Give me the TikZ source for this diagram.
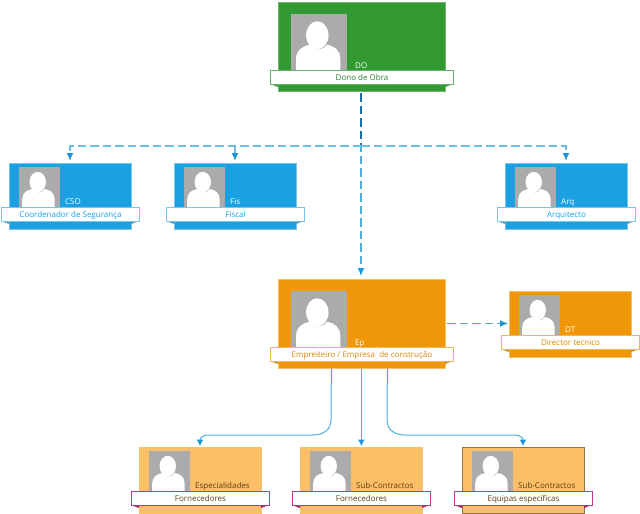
\documentclass[tikz,border=0pt]{standalone}
\usepackage{fontspec}
\setmainfont{Open Sans}
\usetikzlibrary{arrows.meta}
\definecolor{cgreen}{HTML}{339933}
\definecolor{cblue}{HTML}{1BA1E2}
\definecolor{corange}{HTML}{F09609}
\definecolor{clight}{HTML}{FBBF67}
\definecolor{cphoto}{HTML}{ABABAB}
\definecolor{cbrown}{HTML}{5E3F12}
\definecolor{cpink}{HTML}{C0348A}
\definecolor{cline}{HTML}{4FAEDB}
\definecolor{cbus}{HTML}{6DBCE2}
\definecolor{ctip}{HTML}{1B97D8}
\definecolor{cnavy}{HTML}{1B6FA8}
\tikzset{
  x=1pt,y=-1pt,
  cardbase/.style={rectangle,anchor=north west,inner sep=0,line width=.7pt},
  bigcard/.style={cardbase,minimum width=167pt,minimum height=89pt},
  smallcard/.style={cardbase,minimum width=122pt,minimum height=65.5pt},
  ribbon/.style={rectangle,anchor=north west,inner sep=0,fill=white,line width=1pt,text height=6pt,text depth=1pt,font=\fontsize{8}{9}\selectfont},
  codelabel/.style={anchor=base west,inner sep=0,font=\fontsize{8}{9}\selectfont},
  photo/.style={rectangle,anchor=north west,inner sep=0,fill=cphoto,draw=none},
  greentheme/.style={fill=cgreen,draw=cgreen!70!white},
  bluetheme/.style={fill=cblue,draw=cblue!60!white},
  orangetheme/.style={fill=corange,draw=corange!60!white},
  lighttheme/.style={fill=clight,draw=clight},
  browntheme/.style={fill=clight,draw=clight!60!black},
  dashlink/.style={cline,line width=1.3pt,dash pattern=on 8.5pt off 4pt,-{Latex[length=8pt,width=7pt,color=ctip]}},
  solidlink/.style={cline,line width=1pt,-{Latex[length=6.5pt,width=7pt,color=ctip]}},
}
\newcommand\setbig{\def\cstyle{bigcard}\def\pdx{13}\def\pdy{12}\def\psz{56}\def\rw{183}\def\rh{14}\def\rdy{68}\def\ldx{77}\def\ldy{66}\def\cw{167}}
\newcommand\setsmall{\def\cstyle{smallcard}\def\pdx{9.5}\def\pdy{3.5}\def\psz{41}\def\rw{138}\def\rh{14}\def\rdy{44}\def\ldx{56}\def\ldy{41.5}\def\cw{122}}
\newcommand\mycard[9]{%
  \node[\cstyle,#4] (#1) at (#2,#3) {};
  \node[photo,minimum width=\psz pt,minimum height=\psz pt] (#1p) at (#2+\pdx,#3+\pdy) {};
  \begin{scope}[shift={(#2+\pdx,#3+\pdy)},x=\psz pt,y=-\psz pt]
    \fill[white] (.09,1) -- (.09,.8) .. controls (.09,.65) and (.2,.57) .. (.34,.55)
      .. controls (.42,.66) and (.56,.66) .. (.64,.55)
      .. controls (.78,.57) and (.88,.65) .. (.88,.8) -- (.88,1) -- cycle;
    \fill[white] (.47,.38) ellipse [x radius=.2,y radius=.25];
  \end{scope}
  \fill[#5!75!black] (#2-8,#3+\rdy+\rh) -- (#2,#3+\rdy+\rh) -- (#2,#3+\rdy+\rh+3) -- cycle;
  \fill[#5!75!black] (#2+\cw+8,#3+\rdy+\rh) -- (#2+\cw,#3+\rdy+\rh) -- (#2+\cw,#3+\rdy+\rh+3) -- cycle;
  \node[ribbon,draw=#5,text=#6,minimum width=\rw pt,minimum height=\rh pt] (#1r) at (#2-8,#3+\rdy) {#9};
  \node[codelabel,text=#7] (#1c) at (#2+\ldx,#3+\ldy) {#8};
}
\begin{document}
\begin{tikzpicture}
\useasboundingbox (0,0) rectangle (640,514);
\setbig
\mycard{do}{278}{2}{greentheme}{cgreen!75!white}{cgreen!85!black}{white}{DO}{Dono de Obra}
\mycard{ep}{278}{279}{orangetheme}{corange!70!white}{corange!90!black}{white}{Ep}{Empreiteiro / Empresa\ \ de construção}
\setsmall
\mycard{cso}{9}{163}{bluetheme}{cblue!60!white}{cblue}{white}{CSO}{Coordenador de Segurança}
\mycard{fis}{174}{163}{bluetheme}{cblue!60!white}{cblue}{white}{Fis}{Fiscal}
\mycard{arq}{505}{163}{bluetheme}{cblue!60!white}{cblue}{white}{Arq}{Arquitecto}
\mycard{dt}{509}{291}{orangetheme}{corange!70!white}{corange!90!black}{white}{DT}{Director tecnico}
\mycard{esp}{139}{447}{lighttheme}{cpink}{cbrown}{cbrown}{Especialidades}{Fornecedores}
\mycard{sub}{300}{447}{lighttheme}{cpink}{cbrown}{cbrown}{Sub-Contractos}{Fornecedores}
\mycard{equ}{462}{447}{browntheme}{cpink}{cbrown}{cbrown}{Sub-Contractos}{Equipas específicas}
% connectors
\coordinate (bus) at (361,146);
\coordinate (doout) at (361,91);
\coordinate (epin) at (361,279);
\draw[dashlink,shorten <=2pt,shorten >=3pt] (doout) -- (epin);
\draw[cnavy,line width=1.3pt,dash pattern=on 8.5pt off 4pt,shorten <=2pt] (doout) -- (bus);
\draw[dashlink,cbus,shorten >=2pt] (bus) -- (70,146) -- (70,163);
\draw[dashlink,cbus,shorten >=2pt] (bus) -- (235,146) -- (235,163);
\draw[dashlink,cbus,shorten >=2pt] (bus) -- (566,146) -- (566,163);
\draw[dashlink,shorten <=2pt,shorten >=1pt] (445,323.5) -- (dt.west |- 0,323.5);
\draw[solidlink,shorten >=1pt] ([xshift=-30.5pt]ep.south) -- (331,420)
  .. controls (331,430) and (323,435) .. (313,435) -- (208,435)
  .. controls (203,435) and (200,438) .. (200,447);
\draw[solidlink,shorten >=1pt] ([xshift=-.5pt]ep.south) -- (sub.north);
\draw[solidlink,shorten >=1pt] ([xshift=25.5pt]ep.south) -- (387,420)
  .. controls (387,430) and (395,435) .. (405,435) -- (515,435)
  .. controls (520,435) and (523,438) .. (523,447);
\end{tikzpicture}
\end{document}
